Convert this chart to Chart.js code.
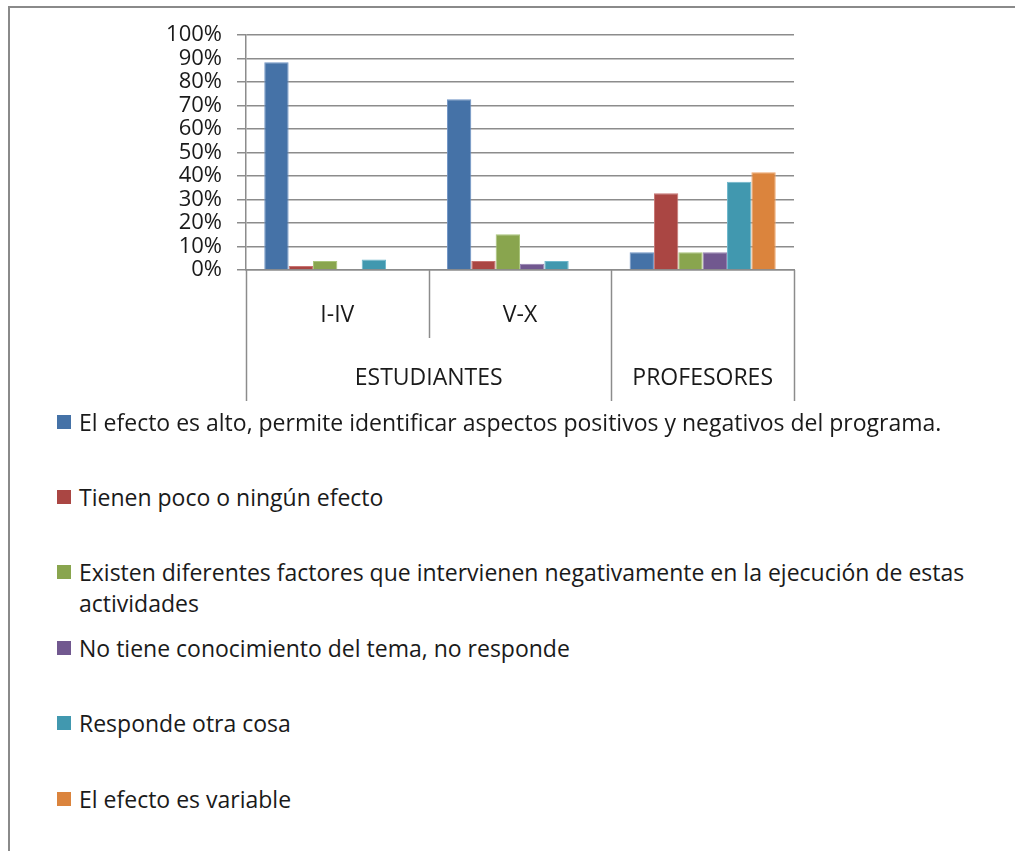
<!DOCTYPE html>
<html lang="es">
<head>
<meta charset="utf-8">
<title>Efecto de las actividades</title>
<script src="https://cdn.jsdelivr.net/npm/chart.js@4.4.1/dist/chart.umd.min.js"></script>
<style>
  body { margin: 0; background: #fff; width: 1015px; height: 851px; overflow: hidden; position: relative; font-family: "Open Sans", sans-serif; }
  #marco { position: absolute; left: 8px; top: 6px; width: 1100px; height: 900px; border-left: 2px solid #8a8a8a; border-top: 2px solid #8a8a8a; }
  #grafica { position: absolute; left: 0; top: 0; }
  #leyenda { position: absolute; left: 0; top: 0; }
  .item { position: absolute; left: 57px; width: 935px; color: #1a1a1a; font-size: 23px; line-height: 31px; }
  .item .cuadro { position: absolute; left: 0; top: 8px; width: 14px; height: 14px; }
  .item .texto { display: block; margin-left: 22px; }
</style>
</head>
<body>
<div id="marco"></div>
<canvas id="grafica" width="1015" height="410"></canvas>
<div id="leyenda"></div>
<script>
// Categorías del eje X y sus grupos
const categorias = ["I-IV", "V-X", ""];
const grupos = ["ESTUDIANTES", "PROFESORES"];
const gruposSpan = [2, 1];

// Porcentajes de cada respuesta
const efectoAlto = [88.4, 72.7, 7.6];
const pocoEfecto = [1.7, 3.8, 32.7];
const factores = [3.8, 15.2, 7.6];
const noConoce = [0, 2.7, 7.6];
const otraCosa = [4.5, 3.8, 37.6];
const efectoVariable = [0, 0, 41.6];

const nombresSeries = [
  "El efecto es alto, permite identificar aspectos positivos y negativos del programa.",
  "Tienen poco o ningún efecto",
  "Existen diferentes factores que intervienen negativamente en la ejecución de estas actividades",
  "No tiene conocimiento del tema, no responde",
  "Responde otra cosa",
  "El efecto es variable",
];
const colores = ["#4572a7", "#aa4643", "#89a54e", "#71588f", "#4198af", "#db843d"];
const bordes = ["#6f93c4", "#c77472", "#a9c47a", "#9580b0", "#6fb7cb", "#f0a56b"];

const valores = [efectoAlto, pocoEfecto, factores, noConoce, otraCosa, efectoVariable];

const gris = "#8c8c8c";
const fuente = "'Open Sans', sans-serif";

// Plugin para dibujar el eje de categorías en dos niveles
const ejeMultinivel = {
  id: "ejeMultinivel",
  afterDraw(chart) {
    const ctx = chart.ctx;
    const x = chart.scales.x;
    const ancho = (x.right - x.left) / categorias.length;
    const base = x.top;

    ctx.save();
    ctx.strokeStyle = gris;
    ctx.lineWidth = 1.5;

    // líneas separadoras de subcategorías (cortas) y grupos (largas)
    let limiteGrupo = [0];
    let acum = 0;
    gruposSpan.forEach((n) => { acum += n; limiteGrupo.push(acum); });
    for (let i = 0; i <= categorias.length; i++) {
      const px = Math.round(x.left + i * ancho) + 0.5;
      const largo = limiteGrupo.includes(i) ? 401 : 338;
      ctx.beginPath();
      ctx.moveTo(px, base);
      ctx.lineTo(px, largo);
      ctx.stroke();
    }

    ctx.fillStyle = "#1a1a1a";
    ctx.font = "23px " + fuente;
    ctx.textAlign = "center";
    ctx.textBaseline = "middle";
    categorias.forEach((c, i) => {
      if (c) ctx.fillText(c, x.left + (i + 0.5) * ancho, 315);
    });

    let inicio = 0;
    grupos.forEach((g, i) => {
      const centro = x.left + (inicio + gruposSpan[i] / 2) * ancho;
      ctx.fillText(g, centro, 378);
      inicio += gruposSpan[i];
    });
    ctx.restore();
  },
};

const grafico = new Chart(document.getElementById("grafica"), {
  type: "bar",
  data: {
    labels: categorias,
    datasets: valores.map((serie, i) => ({
      label: nombresSeries[i],
      data: serie,
      backgroundColor: colores[i],
      borderColor: bordes[i],
      borderWidth: (c) => (c.raw ? 1 : 0),
      borderSkipped: "bottom",
      categoryPercentage: 0.8,
      barPercentage: 1.0,
    })),
  },
  options: {
    responsive: false,
    animation: false,
    layout: { padding: { left: 0, right: 221, top: 35, bottom: 0 } },
    plugins: { legend: { display: false }, tooltip: { enabled: false } },
    scales: {
      x: {
        grid: { display: false },
        border: { display: true, color: gris, width: 1.5 },
        ticks: { display: false },
        afterFit(scale) { scale.height = 140; },
      },
      y: {
        min: 0,
        max: 100,
        ticks: {
          stepSize: 10,
          autoSkip: false,
          padding: 15,
          color: "#1a1a1a",
          font: { family: fuente, size: 22 },
          callback: (v) => v + "%",
        },
        grid: { color: gris, lineWidth: 1.5, tickLength: 9 },
        border: { display: true, color: gris, width: 1.5 },
        afterFit(scale) { scale.width = 246; },
      },
    },
  },
  plugins: [ejeMultinivel],
});

// Leyenda en HTML, una entrada por serie
const leyenda = document.getElementById("leyenda");
nombresSeries.forEach((nombre, i) => {
  const item = document.createElement("div");
  item.className = "item";
  item.style.top = (406.5 + i * 75.4) + "px";
  item.innerHTML = `<span class="cuadro" style="background:${colores[i]}"></span><span class="texto">${nombre}</span>`;
  leyenda.appendChild(item);
});
</script>
</body>
</html>
